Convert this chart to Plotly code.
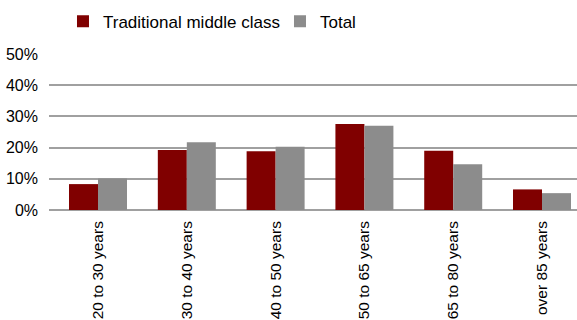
import plotly.graph_objects as go

categories = ["20 to 30 years", "30 to 40 years", "40 to 50 years",
              "50 to 65 years", "65 to 80 years", "over 85 years"]
traditional = [0.083, 0.192, 0.188, 0.276, 0.190, 0.066]
total = [0.101, 0.217, 0.203, 0.270, 0.147, 0.054]
y_ticks = [0, 0.1, 0.2, 0.3, 0.4, 0.5]

FONT = "Liberation Sans, Arial, sans-serif"

fig = go.Figure()
fig.add_trace(go.Bar(name="Traditional middle class", x=categories, y=traditional,
                     marker=dict(color="#800000", line=dict(width=0))))
fig.add_trace(go.Bar(name="Total", x=categories, y=total,
                     marker=dict(color="#8c8c8c", line=dict(width=0))))

fig.update_layout(
    width=577, height=320,
    margin=dict(l=49, r=0, t=54, b=110),
    paper_bgcolor="white", plot_bgcolor="white",
    barmode="group", bargap=0.347, bargroupgap=0,
    font=dict(family=FONT, size=16, color="#000000"),
    legend=dict(orientation="h", x=0.0265, xref="paper", y=0.932, yref="container",
                yanchor="middle", xanchor="left", itemwidth=30, entrywidth=172,
                font=dict(size=17), bgcolor="rgba(0,0,0,0)",
                tracegroupgap=0),
    xaxis=dict(range=[-0.552, 5.394], tickangle=-90, showgrid=False,
               showline=False, ticks="", ticklabelstandoff=7, automargin=False,
               tickfont=dict(size=15.5)),
    yaxis=dict(range=[0, 0.5], tickvals=y_ticks, tickformat=".0%",
               showgrid=True, gridcolor="#a0a0a0", gridwidth=1.6,
               zeroline=True, zerolinecolor="#a0a0a0", zerolinewidth=1.6,
               showline=False, ticks="", ticklabelstandoff=10, automargin=False),
)

fig.write_html("out.html")
